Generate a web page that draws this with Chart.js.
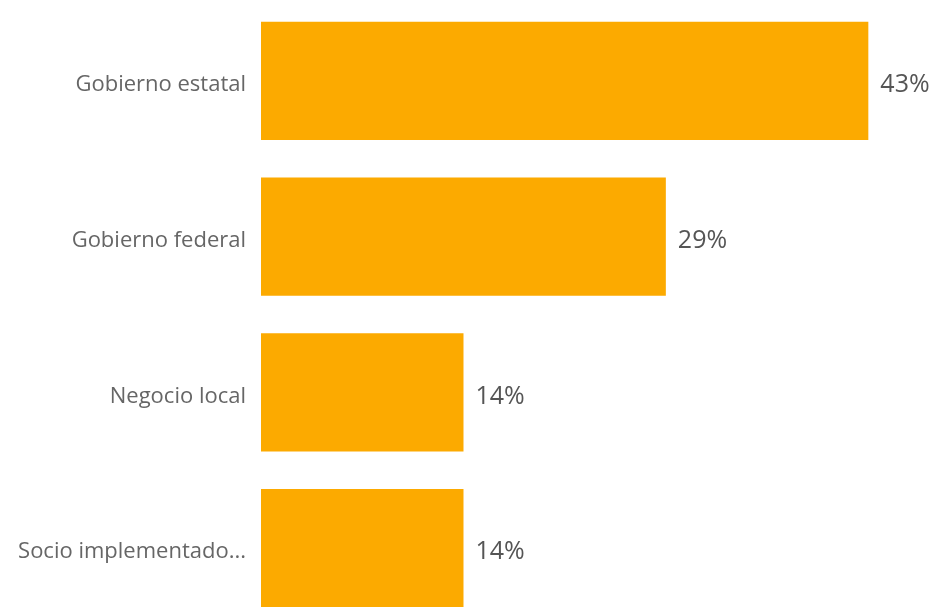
<!DOCTYPE html>
<html>
<head>
<meta charset="utf-8">
<script src="https://cdn.jsdelivr.net/npm/chart.js@4"></script>
<style>
  html, body { margin: 0; padding: 0; background: #fff; overflow: hidden; }
  #wrap { width: 935px; height: 626px; position: relative; }
</style>
</head>
<body>
<div id="wrap"><canvas id="chart"></canvas></div>
<script>
'use strict';

var categories = ['Gobierno estatal', 'Gobierno federal', 'Negocio local', 'Socio implementado...'];
var values = [42.86, 28.57, 14.29, 14.29];
var valueLabels = ['43%', '29%', '14%', '14%'];

var ctx = document.getElementById('chart').getContext('2d');

// draws the percentage next to each bar
var valueLabelPlugin = {
  id: 'valueLabels',
  afterDatasetsDraw: function(chart) {
    var c = chart.ctx;
    var meta = chart.getDatasetMeta(0);
    c.save();
    c.font = '25px "Open Sans", sans-serif';
    c.fillStyle = '#555';
    c.textAlign = 'left';
    c.textBaseline = 'middle';
    for (var i = 0; i < meta.data.length; i++) {
      var bar = meta.data[i];
      c.fillText(valueLabels[i], bar.x + 12, bar.y + 4);
    }
    c.restore();
  }
};

var chart = new Chart(ctx, {
  type: 'bar',
  data: {
    labels: categories,
    datasets: [{
      data: values,
      backgroundColor: '#FCAA00',
      borderWidth: 0,
      barPercentage: 0.758,
      categoryPercentage: 1
    }]
  },
  options: {
    indexAxis: 'y',
    responsive: true,
    maintainAspectRatio: false,
    animation: false,
    layout: { padding: { top: 3, right: 8, bottom: 0, left: 0 } },
    plugins: {
      legend: { display: false },
      tooltip: { enabled: false }
    },
    scales: {
      x: {
        display: false,
        min: 0,
        max: 47
      },
      y: {
        grid: { display: false, drawTicks: false },
        border: { display: false },
        ticks: {
          color: '#666',
          padding: 15,
          labelOffset: 4,
          font: { family: '"Open Sans", sans-serif', size: 22 }
        },
        afterFit: function(scale) {
          scale.width = 261;
          scale.paddingTop = 0;
          scale.paddingBottom = 0;
        }
      }
    }
  },
  plugins: [valueLabelPlugin]
});
</script>
</body>
</html>
